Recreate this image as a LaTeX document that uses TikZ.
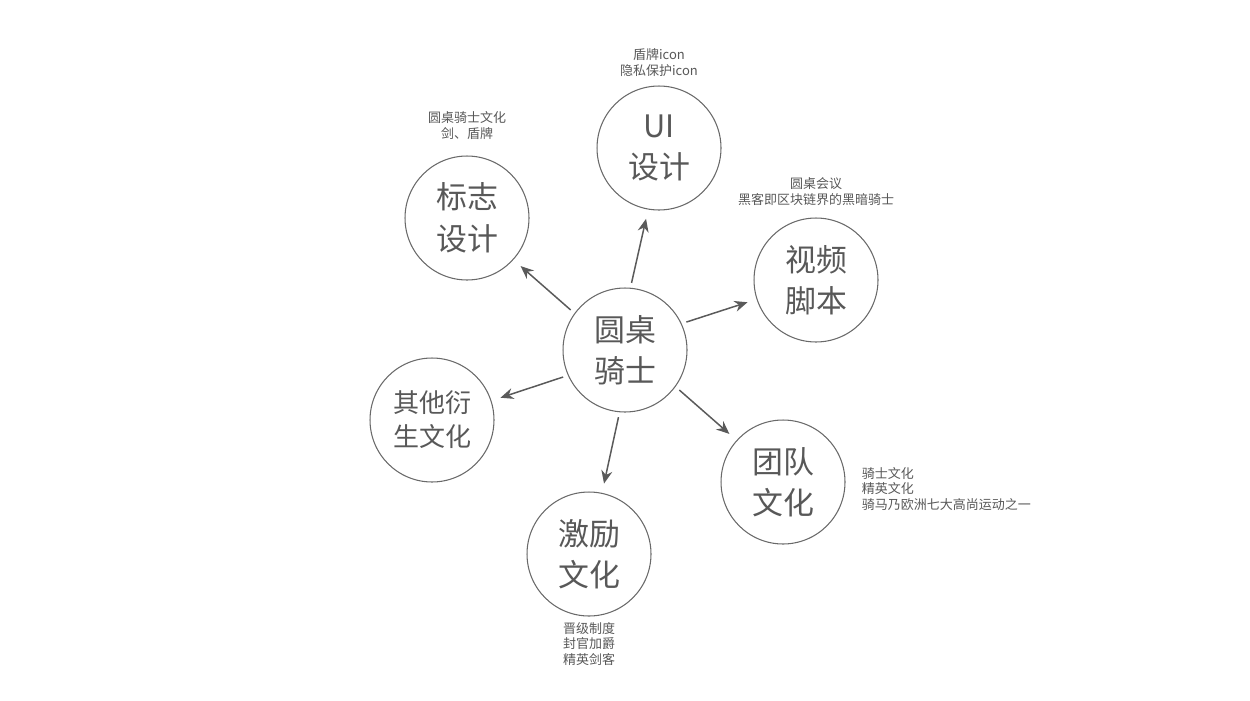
\documentclass[tikz,border=0pt]{standalone}
\usepackage{fontspec}
\setmainfont{Noto Sans CJK SC}
\usetikzlibrary{arrows.meta}
\usetikzlibrary{positioning}
\definecolor{ink}{RGB}{88,88,88}
\definecolor{rim}{RGB}{105,105,105}
\definecolor{wire}{RGB}{90,90,90}

\begin{document}
\begin{tikzpicture}[
            x = 0.02cm, y = -0.02cm, % one unit = one pixel
            > = {Stealth[length=2.6mm,width=2.2mm]}, % arrow head style
            shorten < = 1mm, % keep the tail off the hub
            shorten > = 1.9mm, % don't touch arrow head to node
            auto
        ]

        \tikzstyle{topic}=[
            circle,
            draw = rim,
            line width = 0.6pt,
            minimum size = 2.48cm,
            inner sep = 0pt,
            align = center,
            text = ink,
            font = \fontsize{17.6}{23.6}\selectfont
        ]
        \tikzstyle{note}=[
            inner sep = 0pt,
            align = center,
            text = ink,
            font = \fontsize{7.4}{8.8}\selectfont
        ]

        \useasboundingbox (0,0) rectangle (1250,700);

	% hub and topics
        \node[topic] (C) at (625,350) {圆桌\\骑士};
        \node[topic] (L) at (467,218) {标志\\设计};
        \node[topic] (UI) at (659,148) {UI\\设计};
        \node[topic] (V) at (816,280) {视频\\脚本};
        \node[topic] (T) at (783,482) {团队\\文化};
        \node[topic] (M) at (589,554) {激励\\文化};
        \node[topic, font=\fontsize{14.8}{19.3}\selectfont] (O) at (432,420) {其他衍\\生文化};

        \path[->, color = wire, line width = 0.85pt] (C.144) edge node {} (L.-42);
        \path[->, color = wire, line width = 0.85pt] (C.85) edge node {} (UI.260);
        \path[->, color = wire, line width = 0.85pt] (C.25) edge node {} (V.198);
        \path[->, color = wire, line width = 0.85pt] (C.-36) edge node {} (T.138);
        \path[->, color = wire, line width = 0.85pt] (C.-95) edge node {} (M.78);
        \path[->, color = wire, line width = 0.85pt] (C.204) edge node {} (O.18);

         % notes
         \node[note] (Lnote) [above=3.2mm of L] {圆桌骑士文化\\剑、盾牌};
         \node[note] (UInote) [above=1.8mm of UI] {盾牌icon\\隐私保护icon};
         \node[note] (Vnote) [above=2.4mm of V] {圆桌会议\\黑客即区块链界的黑暗骑士};
         \node[note, align=left] (Tnote) [right=3.2mm of T, yshift=-1.4mm] {骑士文化\\精英文化\\骑马乃欧洲七大高尚运动之一};
         \node[note] (Mnote) [below=1.1mm of M] {晋级制度\\封官加爵\\精英剑客};

  \end{tikzpicture}
\end{document}
